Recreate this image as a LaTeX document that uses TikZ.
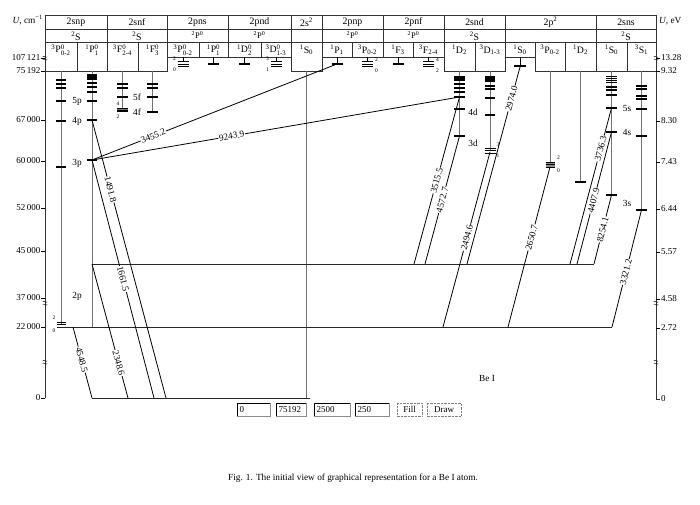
\documentclass[tikz,border=0pt]{standalone}
\usepackage{amsmath}
\usepackage{fontspec}
\setmainfont{Liberation Serif}
\newcommand{\Tm}[4]{${}^{\text{#1}}$#2$^{\text{#3}}_{\text{#4}}$}
\newcommand{\Tn}[3]{${}^{\text{#1}}$#2$_{\text{#3}}$}
\newcommand{\brk}[2]{%
  \draw[line width=0.4pt] (#1-2.2,#2-1.2) .. controls (#1-1,#2-3) and (#1+1,#2+0.6) .. (#1+2.2,#2-1.2);
  \draw[line width=0.4pt] (#1-2.2,#2+1.6) .. controls (#1-1,#2-0.2) and (#1+1,#2+3.4) .. (#1+2.2,#2+1.6);}
\begin{document}
\begin{tikzpicture}[x=1pt,y=-1pt,
  tbl/.style={draw=black!80, line width=0.5pt},
  colline/.style={draw=black!55, line width=0.45pt},
  lvl/.style={line width=1.3pt},
  thinlvl/.style={line width=0.8pt},
  hl/.style={draw=black!85, line width=0.9pt},
  tr/.style={line width=0.8pt},
  tl/.style={fill=white, inner sep=0.6pt, font=\fontsize{9.3}{10}\selectfont, sloped},
  hdr/.style={font=\fontsize{9.8}{10}\selectfont, inner sep=0pt},
  sub/.style={font=\fontsize{8.5}{9}\selectfont, inner sep=0pt},
  ax/.style={font=\fontsize{9}{10}\selectfont, inner sep=0pt},
  jl/.style={font=\fontsize{5.5}{6}\selectfont, inner sep=0pt},
  lab/.style={font=\fontsize{9.3}{10}\selectfont, inner sep=0pt},
  field/.style={draw=black!45, line width=0.4pt},
  btn/.style={draw=black!50, line width=0.4pt, densely dotted}]
\useasboundingbox (0,0) rectangle (700,504);

% ---------- header table ----------
\draw[tbl] (45,15) -- (656,15);
\draw[tbl] (45,29) -- (656,29);
\draw[tbl] (45,42) -- (656,42);
\foreach \x in {45,107,167,228,291,322,383,444,505,596,656}
  \draw[tbl] (\x,15) -- (\x,42);
\foreach \a/\b/\c in {45/77/71,77/107/71,107/138/71,138/167/71,167/199/57,199/228/57,
   228/261/57,261/291/57,291/322/71,322/352/57,352/383/57,383/413/57,413/444/57,
   444/475/71,475/505/71,505/535/57,535/565/71,565/596/71,596/627/71,627/656/71}
  \draw[tbl] (\a,42) rectangle (\b,\c);

\node[hdr] (h1) at (76,22) {2snp};
\node[hdr] (h2) at (137,22) {2snf};
\node[hdr] (h3) at (197.5,22) {2pns};
\node[hdr] (h4) at (259.5,22) {2pnd};
\node[hdr] (h5) at (306.5,22) {2s\textsuperscript{2}};
\node[hdr] (h6) at (352.5,22) {2pnp};
\node[hdr] (h7) at (413.5,22) {2pnf};
\node[hdr] (h8) at (474.5,22) {2snd};
\node[hdr] (h9) at (550.5,22) {2p\textsuperscript{2}};
\node[hdr] (h10) at (626,22) {2sns};

\node[hdr] (p1) at (76,36) {${}^{\text{2}}$S};
\node[hdr] (p2) at (137,36) {${}^{\text{2}}$S};
\node[sub] (p3h) at (197.5,36) {\Tm{2}{P}{0}{}};
\node[sub] (p4h) at (259.5,36) {\Tm{2}{P}{0}{}};
\node[sub] (p6h) at (352.5,36) {\Tm{2}{P}{0}{}};
\node[sub] (p7h) at (413.5,36) {\Tm{2}{P}{0}{}};
\node[hdr] (p8) at (474.5,36) {${}^{\text{2}}$S};
\node[hdr] (p10) at (626,36) {${}^{\text{2}}$S};

\node[hdr] (t1) at (61,50) {\Tm{3}{P}{0}{0-2}};
\node[hdr] (t2) at (92,50) {\Tm{1}{P}{0}{1}};
\node[hdr] (t3) at (122.5,50) {\Tm{3}{F}{0}{2-4}};
\node[hdr] (t4) at (152.5,50) {\Tm{1}{F}{0}{3}};
\node[hdr] (t5) at (183,50) {\Tm{3}{P}{0}{0-2}};
\node[hdr] (t6) at (213.5,50) {\Tm{1}{P}{0}{1}};
\node[hdr] (t7) at (244.5,50) {\Tm{1}{D}{0}{2}};
\node[hdr] (t8) at (276,50) {\Tm{3}{D}{0}{1-3}};
\node[hdr] (t9) at (306.5,50) {\Tn{1}{S}{0}};
\node[hdr] (t10) at (337,50) {\Tn{1}{P}{1}};
\node[hdr] (t11) at (367.5,50) {\Tn{3}{P}{0-2}};
\node[hdr] (t12) at (398,50) {\Tn{1}{F}{3}};
\node[hdr] (t13) at (428.5,50) {\Tn{3}{F}{2-4}};
\node[hdr] (t14) at (459.5,50) {\Tn{1}{D}{2}};
\node[hdr] (t15) at (490,50) {\Tn{3}{D}{1-3}};
\node[hdr] (t16) at (520,50) {\Tn{1}{S}{0}};
\node[hdr] (t17) at (550,50) {\Tn{3}{P}{0-2}};
\node[hdr] (t18) at (580.5,50) {\Tn{1}{D}{2}};
\node[hdr] (t19) at (611.5,50) {\Tn{1}{S}{0}};
\node[hdr] (t20) at (641.5,50) {\Tn{3}{S}{1}};

% ---------- axes ----------
\draw[tbl] (45,42) -- (45,398);
\draw[tbl] (656,42) -- (656,399) -- (660,399);
\node[lab, anchor=east] (ul) at (43,20) {\textit{U}, cm\textsuperscript{−1}};
\node[lab, anchor=west] (ur) at (659,21) {\textit{U}, eV};
\foreach \y/\t in {58/107\,121,71/75\,192,120/67\,000,161/60\,000,208/52\,000,251/45\,000,298/37\,000,327/22\,000,398/0}
  {\draw[line width=0.5pt] (41,\y) -- (45,\y);
   \node[ax, anchor=east] at (40.5,\y) {\t};}
\foreach \y/\t in {58/13.28,71/9.32,121/8.30,162/7.43,209/6.44,252/5.57,299/4.58,328/2.72}
  {\draw[line width=0.5pt] (656,\y) -- (660,\y);
   \node[ax, anchor=west] at (661,\y) {\t};}
\node[ax, anchor=west] (r0) at (661,399) {0};
\brk{45}{58}\brk{45}{303}\brk{45}{362}
\brk{656}{58}\brk{656}{303}\brk{656}{362}

% ---------- level columns ----------
\draw[colline] (61,71) -- (61,324);
\draw[colline] (92,71) -- (92,327);
\draw[colline] (122.5,71) -- (122.5,110);
\draw[colline] (152.5,71) -- (152.5,112);
\draw[colline] (306.5,71) -- (306.5,398);
\draw[colline] (459.5,71) -- (459.5,136);
\draw[colline] (490,71) -- (490,150);
\draw[colline] (550,71) -- (550,164);
\draw[colline] (580.5,71) -- (580.5,182);
\draw[colline] (611.5,71) -- (611.5,195);
\draw[colline] (641.5,71) -- (641.5,210);

% 2snp 3P
\foreach \y in {80,84,88,101,121,167} \draw[lvl] (56,\y) -- (66,\y);
% 2snp 1P
\fill (87,74) rectangle (97,79.5);
\foreach \y in {83,87,92,101,120,160} \draw[lvl] (87,\y) -- (97,\y);
\node[lab] (n5p) at (77,101) {5p};
\node[lab] (n4p) at (77,121) {4p};
\node[lab] (n3p) at (77,163) {3p};
\node[lab] (n2p) at (77,296) {2p};
% 2p 3P at 22000
\foreach \y in {322,324.5,327} \draw[line width=0.6pt] (57,\y) -- (66,\y);
\node[jl] (j2a) at (54,318) {2};
\node[jl] (j0a) at (54,331) {0};
% 2snf 3F
\foreach \y in {84,88,97} \draw[lvl] (117,\y) -- (128,\y);
\fill[black!55] (117,108) rectangle (128,112);
\foreach \y in {108.5,110,111.5} \draw[line width=0.3pt] (117,\y) -- (128,\y);
\node[jl] (j4f) at (118,104) {4};
\node[jl] (j2f) at (118,117) {2};
\node[lab] (n5f) at (137,97) {5f};
\node[lab] (n4f) at (137,112) {4f};
% 2snf 1F
\foreach \y in {84,88,97,112} \draw[lvl] (147,\y) -- (158,\y);

% short columns
\foreach \x in {213.5,244.5,337,398}
  {\draw[thinlvl] (\x,57) -- (\x,64); \draw[lvl] (\x-5.5,64) -- (\x+5.5,64);}
\foreach \x in {183,276,367.5,428.5}
  {\draw[thinlvl] (\x,57) -- (\x,61.5);
   \foreach \y in {61.5,64,66.5} \draw[line width=0.7pt] (\x-5.5,\y) -- (\x+5.5,\y);}
\node[jl] (a2) at (174.5,59) {2};
\node[jl] (a0) at (174.5,70) {0};
\node[jl] (b3) at (267.5,59) {3};
\node[jl] (b1) at (267.5,70) {1};
\node[jl] (c2) at (376.5,60) {2};
\node[jl] (c0) at (376.5,71) {0};
\node[jl] (d4) at (437.5,60) {4};
\node[jl] (d2) at (437.5,71) {2};
\draw[thinlvl] (520,57) -- (520,66);
\draw[lvl] (514,66) -- (526,66);

% 2snd 1D
\fill (454,76) rectangle (465,80.5);
\foreach \y in {84,88,92,97,109,136} \draw[lvl] (454,\y) -- (465,\y);
% 2snd 3D
\fill (485,76) rectangle (495,82);
\foreach \y in {86,89,98,115} \draw[lvl] (485,\y) -- (495,\y);
\foreach \y in {148,150.5,153} \draw[line width=0.7pt] (484.5,\y) -- (495.5,\y);
\node[jl] (e3) at (498,145) {3};
\node[jl] (e1) at (498,156) {1};
\node[lab] (n4d) at (473,112) {4d};
\node[lab] (n3d) at (473,143) {3d};

% 2p2 3P and 1D
\fill[black!45] (545.5,161.5) rectangle (554.5,167.5);
\foreach \y in {162,164.5,167} \draw[line width=0.6pt] (545.5,\y) -- (554.5,\y);
\node[jl] (f2) at (558.5,158) {2};
\node[jl] (f0) at (558.5,171) {0};
\draw[lvl] (575,182) -- (586,182);

% 2sns 1S
\foreach \y in {76,78,80,82} \draw[line width=1pt] (606,\y) -- (617,\y);
\foreach \y in {87,90,95,108,132,195} \draw[lvl] (606,\y) -- (617,\y);
% 2sns 3S
\foreach \y in {86,89,96,99,109,136,210} \draw[lvl] (636,\y) -- (647,\y);
\node[lab] (n5s) at (627,108) {5s};
\node[lab] (n4s) at (627,132) {4s};
\node[lab] (n3s) at (627,203) {3s};

% ---------- horizontal levels ----------
\draw[hl] (58,327) -- (612,327);
\draw[hl] (92,264) -- (594,264);
\draw[hl] (92,398) -- (310,398);

% ---------- coordinates ----------
\coordinate (P3p) at (92,160);
\coordinate (P4p) at (92,120);
\coordinate (P2p) at (92,264);
\coordinate (T2p) at (73,327);
\coordinate (G1) at (92,398);
\coordinate (G2) at (128,398);
\coordinate (G3) at (154,398);
\coordinate (G4) at (166,398);
\coordinate (PNP) at (337,64);
\coordinate (D5) at (459.5,97);
\coordinate (D3) at (459.5,136);
\coordinate (TD3) at (490,152);
\coordinate (S2p) at (520,67);
\coordinate (PP) at (550,167);
\coordinate (S5) at (611.5,108);
\coordinate (S4) at (611.5,132);
\coordinate (S3) at (611.5,195);
\coordinate (TS3) at (641.5,210);
\coordinate (A1) at (414,264);
\coordinate (A2) at (425,264);
\coordinate (A3) at (467,264);
\coordinate (A4) at (570,264);
\coordinate (A5) at (577,264);
\coordinate (A6) at (594,264);
\coordinate (B1) at (443,327);
\coordinate (B2) at (508,327);
\coordinate (B3) at (612,327);

% ---------- transitions ----------
\draw[tr] (P3p) -- node[tl,pos=0.25] (l1) {3455.2} (PNP);
\draw[tr] (P3p) -- node[tl,pos=0.38] (l2) {9243.9} (D5);
\draw[tr] (P4p) -- node[tl,pos=0.25] (l3) {1491.8} (G4);
\draw[tr] (P3p) -- node[tl,pos=0.50] (l4) {1661.5} (G3);
\draw[tr] (P2p) -- node[tl,pos=0.74] (l5) {2348.6} (G2);
\draw[tr] (T2p) -- node[tl,pos=0.46] (l6) {4548.5} (G1);
\draw[tr] (D5) -- node[tl,pos=0.50] (l7) {3515.5} (A1);
\draw[tr] (D3) -- node[tl,pos=0.50] (l8) {4572.7} (A2);
\draw[tr] (TD3) -- node[tl,pos=0.49] (l9) {2494.6} (B1);
\draw[tr] (S2p) -- node[tl,pos=0.16] (l10) {2974.0} (A3);
\draw[tr] (PP) -- node[tl,pos=0.44] (l11) {2650.7} (B2);
\draw[tr] (S5) -- node[tl,pos=0.26] (l12) {3736.3} (A4);
\draw[tr] (S4) -- node[tl,pos=0.52] (l13) {4407.9} (A5);
\draw[tr] (S3) -- node[tl,pos=0.50] (l14) {8254.1} (A6);
\draw[tr] (TS3) -- node[tl,pos=0.53] (l15) {3321.2} (B3);

\node[lab] (be) at (487,378) {Be I};

% ---------- controls ----------
\foreach \a/\b/\t/\n in {237/270/0/i1,276/306/75192/i2,314/350/2500/i3,355/389/250/i4}
  {\draw[field] (\a,403) rectangle (\b,416);
   \draw[line width=0.6pt] (\a,416) -- (\a,403) -- (\b,403);
   \node[ax, anchor=west] (\n) at (\a+2.5,409.5) {\t};}
\draw[btn] (397,403) rectangle (422,416);
\node[ax] (fill) at (409.5,409.5) {Fill};
\draw[btn] (427,403) rectangle (461,416);
\node[ax] (drw) at (444,409.5) {Draw};

\node[lab] (cap) at (353,478) {Fig. 1. The initial view of graphical representation for a Be I atom.};
\end{tikzpicture}
\end{document}
